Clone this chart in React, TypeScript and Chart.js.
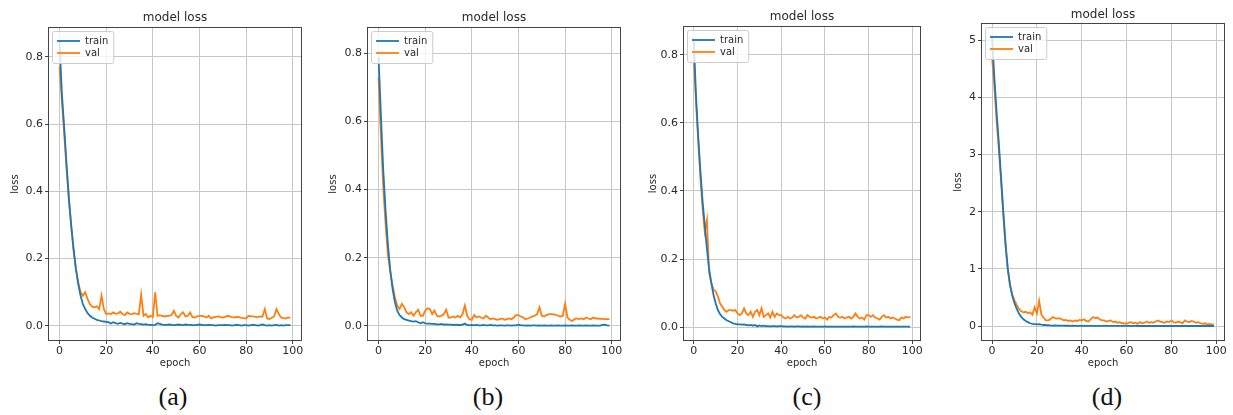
import React, { useEffect, useRef } from "react";
import { Chart, registerables } from "chart.js";

Chart.register(...registerables);

// ---------- data ----------
const epochs = [...Array(100).keys()];

const trainA = [
  0.845, 0.69, 0.59, 0.48, 0.38, 0.30, 0.23, 0.17, 0.125, 0.09,
  0.065, 0.05, 0.038, 0.03, 0.025, 0.021, 0.018, 0.016, 0.014, 0.013,
  0.012, 0.011, 0.007, 0.011, 0.008, 0.006, 0.009, 0.007, 0.005, 0.008,
  0.006, 0.005, 0.004, 0.008, 0.006, 0.005, 0.004, 0.005, 0.003, 0.003,
  0.002, 0.003, 0.008, 0.006, 0.004, 0.003, 0.003, 0.004, 0.003, 0.002,
  0.003, 0.004, 0.003, 0.002, 0.004, 0.003, 0.003, 0.002, 0.002, 0.003,
  0.004, 0.003, 0.002, 0.002, 0.003, 0.002, 0.002, 0.001, 0.002, 0.002,
  0.002, 0.003, 0.002, 0.002, 0.001, 0.002, 0.003, 0.002, 0.001, 0.002,
  0.002, 0.001, 0.002, 0.003, 0.002, 0.001, 0.002, 0.004, 0.002, 0.001,
  0.002, 0.001, 0.002, 0.003, 0.001, 0.002, 0.001, 0.002, 0.002, 0.002,
];
const valA = [
  0.77, 0.67, 0.57, 0.47, 0.375, 0.295, 0.225, 0.17, 0.13, 0.10,
  0.09, 0.10, 0.08, 0.065, 0.057, 0.055, 0.058, 0.05, 0.09, 0.05,
  0.035, 0.037, 0.035, 0.04, 0.036, 0.037, 0.042, 0.035, 0.032, 0.04,
  0.036, 0.035, 0.038, 0.036, 0.035, 0.093, 0.03, 0.035, 0.025, 0.03,
  0.026, 0.10, 0.03, 0.032, 0.03, 0.028, 0.03, 0.03, 0.032, 0.045,
  0.03, 0.025, 0.035, 0.04, 0.028, 0.03, 0.04, 0.026, 0.025, 0.028,
  0.03, 0.03, 0.028, 0.025, 0.03, 0.022, 0.025, 0.027, 0.028, 0.026,
  0.025, 0.027, 0.03, 0.028, 0.026, 0.025, 0.027, 0.026, 0.024, 0.023,
  0.022, 0.03, 0.028, 0.028, 0.027, 0.026, 0.028, 0.027, 0.05, 0.022,
  0.02, 0.024, 0.028, 0.05, 0.035, 0.025, 0.023, 0.022, 0.025, 0.024,
];

const trainB = [
  0.79, 0.62, 0.46, 0.34, 0.24, 0.165, 0.11, 0.07, 0.045, 0.032,
  0.025, 0.02, 0.018, 0.016, 0.014, 0.013, 0.014, 0.011, 0.008, 0.011,
  0.008, 0.007, 0.007, 0.006, 0.006, 0.005, 0.005, 0.006, 0.004, 0.005,
  0.004, 0.004, 0.003, 0.004, 0.003, 0.003, 0.004, 0.007, 0.003, 0.002,
  0.003, 0.002, 0.003, 0.002, 0.002, 0.003, 0.002, 0.002, 0.003, 0.002,
  0.002, 0.001, 0.002, 0.002, 0.001, 0.002, 0.002, 0.001, 0.002, 0.002,
  0.004, 0.002, 0.002, 0.001, 0.002, 0.001, 0.002, 0.002, 0.001, 0.002,
  0.001, 0.002, 0.001, 0.001, 0.002, 0.001, 0.001, 0.002, 0.001, 0.001,
  0.002, 0.001, 0.001, 0.002, 0.001, 0.001, 0.002, 0.001, 0.001, 0.002,
  0.001, 0.001, 0.002, 0.001, 0.001, 0.001, 0.003, 0.004, 0.002, 0.001,
];
const valB = [
  0.73, 0.56, 0.41, 0.30, 0.21, 0.16, 0.12, 0.085, 0.06, 0.05,
  0.065, 0.055, 0.04, 0.035, 0.04, 0.03, 0.04, 0.048, 0.03, 0.03,
  0.045, 0.052, 0.05, 0.035, 0.045, 0.03, 0.028, 0.03, 0.035, 0.048,
  0.025, 0.025, 0.028, 0.025, 0.03, 0.025, 0.035, 0.06, 0.03, 0.02,
  0.018, 0.032, 0.025, 0.028, 0.025, 0.022, 0.03, 0.025, 0.02, 0.022,
  0.02, 0.018, 0.02, 0.022, 0.018, 0.02, 0.022, 0.02, 0.025, 0.032,
  0.032, 0.028, 0.025, 0.02, 0.022, 0.025, 0.028, 0.03, 0.035, 0.055,
  0.03, 0.028, 0.032, 0.035, 0.035, 0.034, 0.033, 0.03, 0.028, 0.03,
  0.065, 0.025, 0.018, 0.015, 0.02, 0.022, 0.02, 0.022, 0.02, 0.025,
  0.022, 0.02, 0.025, 0.022, 0.022, 0.021, 0.021, 0.02, 0.02, 0.02,
];

const trainC = [
  0.84, 0.68, 0.56, 0.46, 0.37, 0.30, 0.23, 0.17, 0.13, 0.095,
  0.07, 0.05, 0.038, 0.03, 0.025, 0.02, 0.017, 0.014, 0.011, 0.009,
  0.008, 0.008, 0.007, 0.008, 0.006, 0.005, 0.006, 0.004, 0.006, 0.002,
  0.005, 0.003, 0.004, 0.003, 0.003, 0.002, 0.003, 0.003, 0.002, 0.003,
  0.003, 0.002, 0.002, 0.001, 0.002, 0.002, 0.001, 0.002, 0.002, 0.001,
  0.002, 0.001, 0.002, 0.001, 0.001, 0.002, 0.001, 0.001, 0.001, 0.001,
  0.002, 0.001, 0.001, 0.001, 0.001, 0.001, 0.001, 0.001, 0.001, 0.001,
  0.001, 0.001, 0.001, 0.002, 0.001, 0.001, 0.001, 0.001, 0.001, 0.002,
  0.001, 0.001, 0.001, 0.001, 0.001, 0.001, 0.002, 0.001, 0.001, 0.001,
  0.001, 0.001, 0.001, 0.001, 0.001, 0.001, 0.001, 0.001, 0.001, 0.001,
];
const valC = [
  0.79, 0.66, 0.55, 0.44, 0.35, 0.28, 0.315, 0.16, 0.13, 0.11,
  0.105, 0.09, 0.07, 0.06, 0.05, 0.045, 0.05, 0.05, 0.048, 0.05,
  0.04, 0.035, 0.04, 0.055, 0.04, 0.035, 0.045, 0.03, 0.045, 0.05,
  0.035, 0.055, 0.03, 0.035, 0.04, 0.028, 0.045, 0.03, 0.04, 0.035,
  0.035, 0.028, 0.025, 0.03, 0.025, 0.028, 0.035, 0.028, 0.03, 0.035,
  0.028, 0.025, 0.035, 0.03, 0.028, 0.03, 0.025, 0.028, 0.03, 0.025,
  0.028, 0.022, 0.03, 0.028, 0.035, 0.04, 0.03, 0.028, 0.03, 0.025,
  0.028, 0.03, 0.025, 0.03, 0.04, 0.03, 0.025, 0.028, 0.022, 0.035,
  0.035, 0.03, 0.035, 0.028, 0.025, 0.022, 0.03, 0.035, 0.028, 0.03,
  0.025, 0.028, 0.025, 0.022, 0.02, 0.028, 0.025, 0.03, 0.028, 0.03,
];

const trainD = [
  5.05, 4.35, 3.75, 3.2, 2.6, 2.0, 1.45, 1.0, 0.72, 0.53,
  0.4, 0.3, 0.22, 0.16, 0.12, 0.09, 0.07, 0.05, 0.04, 0.035,
  0.03, 0.035, 0.025, 0.02, 0.02, 0.015, 0.012, 0.01, 0.012, 0.01,
  0.008, 0.01, 0.008, 0.007, 0.008, 0.006, 0.007, 0.006, 0.005, 0.006,
  0.005, 0.006, 0.005, 0.004, 0.005, 0.006, 0.004, 0.004, 0.005, 0.004,
  0.004, 0.003, 0.004, 0.004, 0.003, 0.004, 0.003, 0.003, 0.004, 0.003,
  0.003, 0.003, 0.002, 0.003, 0.003, 0.002, 0.003, 0.002, 0.002, 0.003,
  0.002, 0.002, 0.003, 0.002, 0.002, 0.002, 0.002, 0.003, 0.002, 0.002,
  0.002, 0.002, 0.002, 0.002, 0.003, 0.002, 0.002, 0.002, 0.002, 0.002,
  0.002, 0.002, 0.002, 0.002, 0.002, 0.002, 0.002, 0.002, 0.002, 0.002,
];
const valD = [
  4.7, 4.2, 3.6, 3.1, 2.55, 1.95, 1.4, 1.0, 0.72, 0.55,
  0.45, 0.37, 0.3, 0.26, 0.24, 0.25, 0.23, 0.24, 0.2, 0.33,
  0.22, 0.44, 0.2, 0.15, 0.1, 0.1, 0.12, 0.16, 0.14, 0.13,
  0.14, 0.12, 0.1, 0.11, 0.09, 0.1, 0.08, 0.1, 0.09, 0.11,
  0.1, 0.12, 0.09, 0.08, 0.12, 0.16, 0.14, 0.15, 0.12, 0.1,
  0.1, 0.08, 0.09, 0.1, 0.07, 0.08, 0.06, 0.07, 0.05, 0.05,
  0.04, 0.06, 0.07, 0.05, 0.06, 0.04, 0.07, 0.05, 0.06, 0.08,
  0.06, 0.07, 0.06, 0.08, 0.1, 0.08, 0.07, 0.06, 0.08, 0.07,
  0.1, 0.07, 0.06, 0.08, 0.07, 0.05, 0.1, 0.08, 0.07, 0.09,
  0.08, 0.06, 0.07, 0.05, 0.04, 0.05, 0.03, 0.04, 0.03, 0.02,
];

const xTickStep = 20;
const titleText = "model loss";
const xLabel = "epoch";
const yLabel = "loss";
const seriesNames = ["train", "val"];
const captions = ["(a)", "(b)", "(c)", "(d)"];

// ---------- layout / style ----------
const FONT = "'DejaVu Sans', sans-serif";
const TEXT = "#2a2a2a";
const BLUE = "#1f77b4";
const ORANGE = "#ff7f0e";
const AXIS_W = 46;
const XAXIS_H = 31;
const RIGHT_PAD = 6;

type Panel = {
  train: number[];
  val: number[];
  l: number; r: number; t: number; b: number;
  yMin: number; yMax: number; yStep: number; decimals: number;
  titleY: number; yLabelOff: number; capX: number;
};

const panels: Panel[] = [
  { train: trainA, val: valA, l: 48, r: 302, t: 27, b: 341, yMin: -0.045, yMax: 0.889, yStep: 0.2, decimals: 1, titleY: 18, yLabelOff: 33, capX: 173 },
  { train: trainB, val: valB, l: 367, r: 621, t: 27, b: 341, yMin: -0.044, yMax: 0.877, yStep: 0.2, decimals: 1, titleY: 18, yLabelOff: 34, capX: 488 },
  { train: trainC, val: valC, l: 683, r: 921, t: 26, b: 341, yMin: -0.041, yMax: 0.885, yStep: 0.2, decimals: 1, titleY: 17, yLabelOff: 30, capX: 807 },
  { train: trainD, val: valD, l: 981, r: 1225, t: 23, b: 341, yMin: -0.26, yMax: 5.3, yStep: 1, decimals: 0, titleY: 15, yLabelOff: 23, capX: 1107 },
];

const decorPlugin = {
  id: "decor",
  afterDatasetsDraw(chart: any, _args: any, opts: any) {
    const { ctx, chartArea: ca } = chart;
    ctx.save();
    // frame
    ctx.strokeStyle = "#444";
    ctx.lineWidth = 1;
    ctx.strokeRect(Math.round(ca.left) + 0.5, Math.round(ca.top) + 0.5,
      Math.round(ca.right - ca.left) - 1, Math.round(ca.bottom - ca.top) - 1);
    // title
    ctx.fillStyle = TEXT;
    ctx.font = `12px ${FONT}`;
    ctx.textAlign = "center";
    ctx.textBaseline = "middle";
    ctx.fillText(opts.title, (ca.left + ca.right) / 2, opts.titleY);
    // legend
    ctx.font = `10px ${FONT}`;
    const ds = chart.data.datasets;
    let tw = 0;
    ds.forEach((d: any) => { tw = Math.max(tw, ctx.measureText(d.label).width); });
    const bx = ca.left + 4, by = ca.top + 4;
    const bw = 5 + 23 + 5 + tw + 5, bh = 32;
    ctx.beginPath();
    if (ctx.roundRect) ctx.roundRect(bx + 0.5, by + 0.5, bw, bh, 2);
    else ctx.rect(bx + 0.5, by + 0.5, bw, bh);
    ctx.fillStyle = "rgba(255,255,255,0.8)";
    ctx.fill();
    ctx.strokeStyle = "#cccccc";
    ctx.lineWidth = 1;
    ctx.stroke();
    ds.forEach((d: any, i: number) => {
      const y = by + 10 + i * 12;
      ctx.strokeStyle = d.borderColor;
      ctx.lineWidth = 1.8;
      ctx.beginPath();
      ctx.moveTo(bx + 5, y);
      ctx.lineTo(bx + 28, y);
      ctx.stroke();
      ctx.fillStyle = TEXT;
      ctx.textAlign = "left";
      ctx.textBaseline = "middle";
      ctx.fillText(d.label, bx + 33, y);
    });
    ctx.restore();
  },
};

function LossChart({ p }: { p: Panel }) {
  const ref = useRef<HTMLCanvasElement>(null);
  const width = p.r - p.l + AXIS_W + RIGHT_PAD;
  const height = p.b + XAXIS_H;
  useEffect(() => {
    if (!ref.current) return;
    const tickFont = { family: FONT, size: 11 };
    const chart = new Chart(ref.current, {
      type: "line",
      data: {
        datasets: [
          { label: seriesNames[0], data: p.train.map((y, i) => ({ x: epochs[i], y })), borderColor: BLUE, backgroundColor: BLUE },
          { label: seriesNames[1], data: p.val.map((y, i) => ({ x: epochs[i], y })), borderColor: ORANGE, backgroundColor: ORANGE },
        ],
      },
      options: {
        animation: false,
        responsive: false,
        devicePixelRatio: 1,
        layout: { padding: { top: p.t, right: RIGHT_PAD, left: 0, bottom: 0 } },
        elements: { point: { radius: 0 }, line: { borderWidth: 1.8, tension: 0 } },
        plugins: {
          legend: { display: false },
          tooltip: { enabled: false },
          title: { display: false },
          decor: { title: titleText, titleY: p.titleY },
        } as any,
        scales: {
          x: {
            type: "linear",
            min: -4.95,
            max: 103.95,
            afterFit: (s: any) => { s.height = XAXIS_H; },
            ticks: { stepSize: xTickStep, includeBounds: false, font: tickFont, color: TEXT, padding: 1, maxRotation: 0, autoSkip: false },
            grid: { color: "#c8c8c8", lineWidth: 1, tickLength: 3, tickColor: "#444", drawTicks: true },
            border: { display: false },
            title: { display: true, text: xLabel, font: { family: FONT, size: 10, lineHeight: 1.2 }, color: TEXT, padding: { top: 0, bottom: 3 } },
          },
          y: {
            type: "linear",
            min: p.yMin,
            max: p.yMax,
            afterFit: (s: any) => { s.width = AXIS_W; },
            ticks: {
              stepSize: p.yStep, includeBounds: false, font: tickFont, color: TEXT, padding: 2,
              callback: (v: any) => Number(v).toFixed(p.decimals),
            },
            grid: { color: "#c8c8c8", lineWidth: 1, tickLength: 3, tickColor: "#444", drawTicks: true },
            border: { display: false },
            title: { display: true, text: yLabel, font: { family: FONT, size: 10, lineHeight: 1.2 }, color: TEXT, padding: { top: AXIS_W - p.yLabelOff - 6, bottom: 0 } },
          },
        },
      },
      plugins: [decorPlugin],
    } as any);
    return () => chart.destroy();
  }, []);
  return (
    <canvas
      ref={ref}
      width={width}
      height={height}
      style={{ position: "absolute", left: p.l - AXIS_W, top: 0, width, height }}
    />
  );
}

export default function App() {
  return (
    <div style={{ position: "absolute", left: 0, top: 0, width: 1233, height: 415, background: "#fff", overflow: "hidden" }}>
      {panels.map((p, i) => (
        <LossChart key={i} p={p} />
      ))}
      {panels.map((p, i) => (
        <div
          key={"c" + i}
          style={{
            position: "absolute", left: p.capX - 50, width: 100, top: 382, height: 30,
            textAlign: "center", fontFamily: "'Liberation Serif', 'Times New Roman', serif",
            fontSize: 26, lineHeight: "30px", color: "#111",
          }}
        >
          {captions[i]}
        </div>
      ))}
    </div>
  );
}
